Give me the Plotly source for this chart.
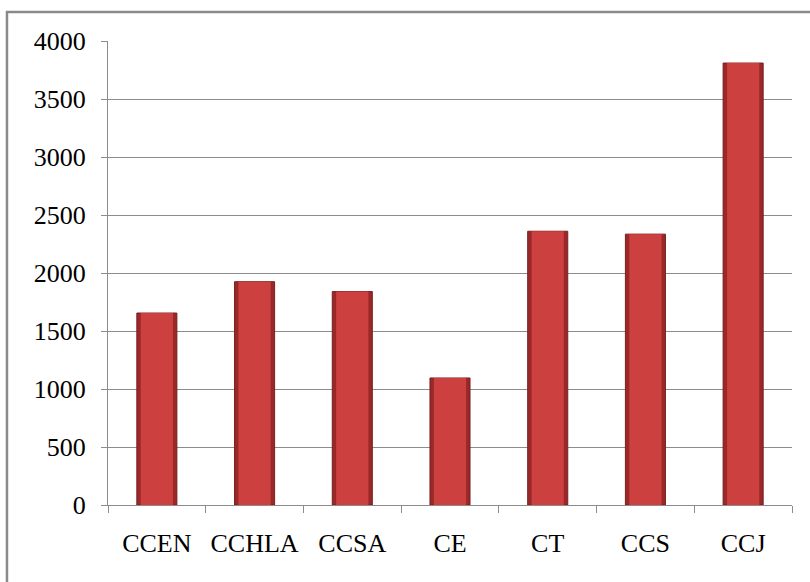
import plotly.graph_objects as go

categories = ["CCEN", "CCHLA", "CCSA", "CE", "CT", "CCS", "CCJ"]
values = [1655, 1925, 1840, 1095, 2360, 2335, 3810]
y_ticks = [0, 500, 1000, 1500, 2000, 2500, 3000, 3500, 4000]

fig = go.Figure()
# outer (darker edge) bar
fig.add_trace(go.Bar(
    x=categories, y=values, width=0.41,
    marker=dict(color="#9a2828", line=dict(color="#7a1f1f", width=1)),
    hoverinfo="x+y", showlegend=False,
))
# inner (lighter face) bar
fig.add_trace(go.Bar(
    x=categories, y=values, width=0.33,
    marker=dict(color="#cc4040", line=dict(width=0)),
    hoverinfo="skip", showlegend=False,
))

grid = "#8c8c8c"
fig.update_layout(
    width=810, height=582,
    margin=dict(l=108, r=18, t=41, b=76.5),
    paper_bgcolor="white", plot_bgcolor="white",
    barmode="overlay",
    font=dict(family="Liberation Serif, Times New Roman, serif", size=26, color="#000"),
    xaxis=dict(
        type="category", showline=True, linecolor=grid, linewidth=1,
        ticks="outside", tickson="boundaries", ticklen=7, tickcolor=grid,
        showgrid=False, ticklabelstandoff=15, tickfont=dict(size=26),
    ),
    yaxis=dict(
        range=[0, 4000], tickvals=y_ticks, showline=True, linecolor=grid, linewidth=1,
        ticks="outside", ticklen=6, tickcolor=grid,
        showgrid=True, gridcolor=grid, gridwidth=1, zeroline=False,
        ticklabelstandoff=10, tickfont=dict(size=26),
    ),
    shapes=[dict(
        type="rect", xref="paper", yref="paper",
        x0=-0.1477, x1=1.1, y0=-0.3, y1=1.0624,
        line=dict(color="#8a8a8a", width=2.5), fillcolor="rgba(0,0,0,0)", layer="above",
    )],
)

fig.write_html("out.html")
